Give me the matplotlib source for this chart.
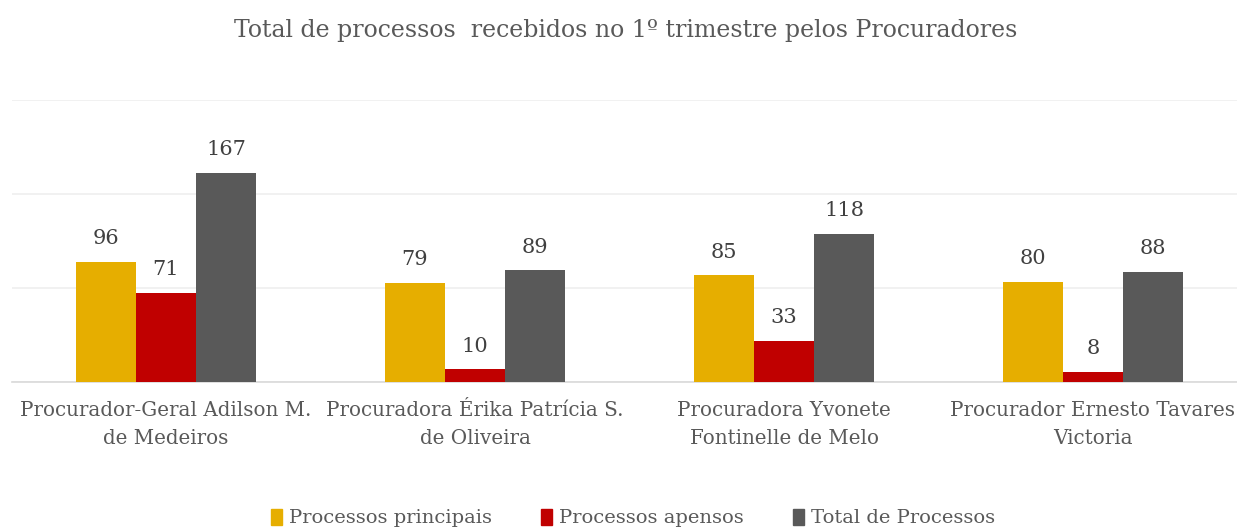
import matplotlib
matplotlib.use("Agg")
import matplotlib.pyplot as plt
import numpy as np
from matplotlib.patches import Patch

plt.rcParams['font.family'] = ['DejaVu Serif']

categories = ["Procurador-Geral Adilson M.\nde Medeiros",
              "Procuradora Érika Patrícia S.\nde Oliveira",
              "Procuradora Yvonete\nFontinelle de Melo",
              "Procurador Ernesto Tavares\nVictoria"]
series_names = ["Processos principais", "Processos apensos", "Total de Processos"]
principais = [96, 79, 85, 80]
apensos = [71, 10, 33, 8]
total = [167, 89, 118, 88]
yticks = [0, 75, 150, 225]

colors = ["#E6AE00", "#C00000", "#595959"]
text_color = "#595959"

fig = plt.figure(figsize=(12.37, 5.28), dpi=100)
ax = fig.add_axes([11.5/1237, 146/528, 1236/1237, 282/528])

x = np.arange(len(categories))
w = 0.194
for i, (vals, c) in enumerate(zip([principais, apensos, total], colors)):
    bars = ax.bar(x + (i - 1) * w, vals, width=w, color=c, zorder=3)
    for b, v in zip(bars, vals):
        ax.annotate(str(v), (b.get_x() + b.get_width() / 2, v), xytext=(0, 10),
                    textcoords="offset points", ha="center", va="bottom",
                    fontsize=15, color="#404040")

ax.set_xlim(-0.5, 3.5)
ax.set_ylim(0, 225)
ax.set_yticks(yticks)
ax.yaxis.grid(True, color="#EFEFEF", linewidth=1.2, zorder=0)
ax.tick_params(axis='y', length=0, labelleft=False)
ax.tick_params(axis='x', length=0, pad=14)
ax.set_xticks(x)
ax.set_xticklabels(categories, fontsize=14.3, color=text_color, linespacing=1.55)
for s in ["top", "right", "left"]:
    ax.spines[s].set_visible(False)
ax.spines["bottom"].set_color("#D9D9D9")
ax.spines["bottom"].set_linewidth(1.2)

fig.text(626/1237, 1 - 30/528, "Total de processos  recebidos no 1º trimestre pelos Procuradores",
         ha="center", va="center", fontsize=17, color=text_color)

handles = [Patch(color=c) for c in colors]
fig.legend(handles, series_names, loc="center", bbox_to_anchor=(633/1237, 1 - 518/528),
           ncol=3, frameon=False, fontsize=14, labelcolor=text_color,
           handlelength=0.6, handleheight=0.9, handletextpad=0.35, columnspacing=2.5)

fig.savefig("out.png", dpi=100)
